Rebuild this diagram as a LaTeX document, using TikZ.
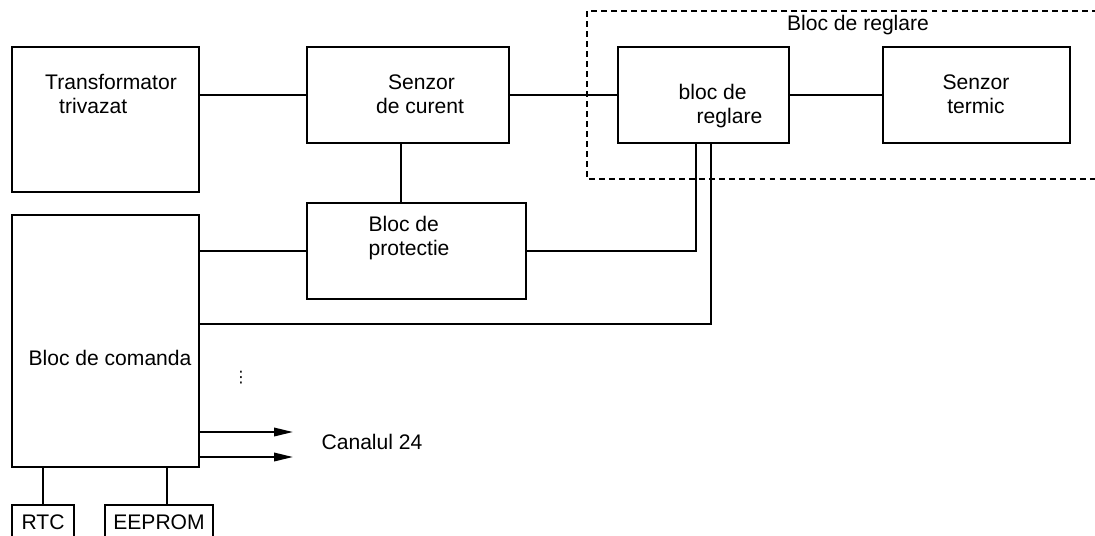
\documentclass[tikz,border=0pt]{standalone}
\usepackage{fontspec}
\setmainfont{Liberation Sans}
\newfontfamily\dotsfont{DejaVu Sans}
\usetikzlibrary{arrows.meta}

\begin{document}
\begin{tikzpicture}[x=0.02cm, y=-0.02cm,
    blk/.style={draw, rectangle, line width=1.1pt, inner sep=0pt, font=\fontsize{12}{13.7}\selectfont},
    lbl/.style={inner sep=0pt, font=\fontsize{12}{13.7}\selectfont},
    wire/.style={line width=1.1pt},
    sig/.style={line width=1.1pt, -{Triangle[length=0.38cm,width=0.17cm]}},
    regframe/.style={line width=1pt, dash pattern=on 3.4pt off 2.3pt}]
    \useasboundingbox (0,0) rectangle (1095,535);
    \clip (0,0) rectangle (1095,535);

    % upper row
    \node[blk, minimum width=3.74cm, minimum height=2.9cm] (trafo) at (105.5,119.5) {};
    \node[blk, minimum width=4.04cm, minimum height=1.92cm] (senzor) at (408,95) {};
    \node[blk, minimum width=3.42cm, minimum height=1.92cm] (reglare) at (703.5,95) {};
    \node[blk, minimum width=3.74cm, minimum height=1.92cm] (termic) at (976.5,95) {};

    \node[lbl, align=left] (trafotxt) at (111,94) {Transformator\\\hspace*{0.28cm}trivazat};
    \node[lbl, align=left] (senzortxt) at (420,94.5) {\hspace*{0.24cm}Senzor\\de curent};
    \node[lbl, align=left] (reglaretxt) at (720.5,106.5) {bloc de\\\hspace*{0.36cm}reglare};
    \node[lbl, align=center] (termictxt) at (976,94.5) {Senzor\\termic};

    % bloc de reglare frame
    \draw[regframe] (587,11) rectangle (1120,179);
    \node[lbl] (regtitle) at (858,25) {Bloc de reglare};

    % lower blocks
    \node[blk, minimum width=4.38cm, minimum height=1.92cm] (protectie) at (416.5,251) {};
    \node[lbl, align=left] (protectietxt) at (409,238) {Bloc de\\protectie};
    \node[blk, minimum width=3.74cm, minimum height=5.04cm] (comanda) at (105.5,341) {};
    \node[lbl] (comandatxt) at (110,358) {Bloc de comanda};

    \node[blk, minimum width=1.24cm, minimum height=0.7cm, anchor=north] (rtc) at (43,504) {RTC};
    \node[blk, minimum width=2.16cm, minimum height=0.7cm, anchor=north] (eeprom) at (159,504) {EEPROM};

    % connections
    \draw[wire] (senzor.west) -- (senzor.west -| trafo.east);
    \draw[wire] (senzor) -- (reglare);
    \draw[wire] (reglare) -- (termic);
    \draw[wire] ([xshift=-0.14cm]senzor.south) -- ([xshift=-0.14cm]senzor.south |- protectie.north);
    \draw[wire] (protectie.west) -- (protectie.west -| comanda.east);
    \draw[wire] (protectie.east) -| ([xshift=-0.15cm]reglare.south);
    \draw[wire] ([yshift=0.34cm]comanda.east) -| ([xshift=0.15cm]reglare.south);
    \draw[wire] (rtc.north) -- (rtc.north |- comanda.south);
    \draw[wire] ([xshift=0.16cm]eeprom.north) -- ([xshift=0.16cm]eeprom.north |- comanda.south);

    % channels
    \coordinate (ch1) at (293,432);
    \coordinate (ch2) at (293,457);
    \foreach \c in {ch1,ch2} {
        \draw[sig] (\c -| comanda.east) -- (\c);
    }
    \node[lbl] (canal) at (372,442) {Canalul 24};
    \node[inner sep=0pt, font=\dotsfont\fontsize{9}{9}\selectfont] (dots) at (241,378) {⋮};
\end{tikzpicture}
\end{document}
